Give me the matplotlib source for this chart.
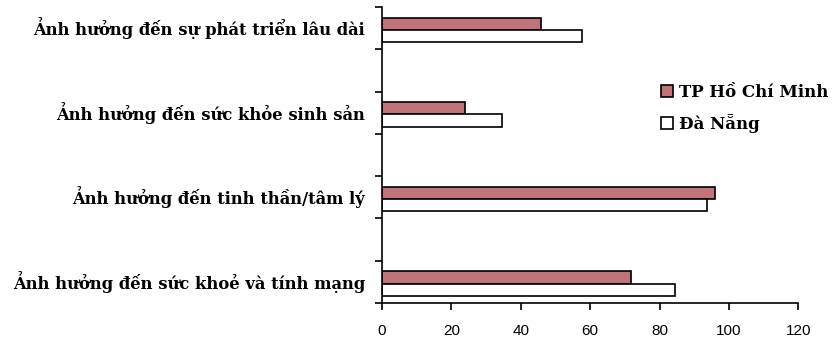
import matplotlib.pyplot as plt
import matplotlib.transforms as mtransforms
import numpy as np

categories = [
    "Ảnh hưởng đến sự phát triển lâu dài",
    "Ảnh hưởng đến sức khỏe sinh sản",
    "Ảnh hưởng đến tinh thần/tâm lý",
    "Ảnh hưởng đến sức khoẻ và tính mạng",
]
hcm = [45.7, 23.8, 96.0, 71.7]
danang = [57.7, 34.7, 93.6, 84.4]
series_names = ["TP Hồ Chí Minh", "Đà Nẵng"]
xticks = [0, 20, 40, 60, 80, 100, 120]

label_font = {"family": "DejaVu Serif", "weight": "bold", "size": 11.8}

fig = plt.figure(figsize=(8.32, 3.4), dpi=100)
ax = fig.add_axes([0.4591, 0.1088, 0.5004, 0.8706])

# categories sit on every other slot, empty slots between them
pos = np.arange(len(categories)) * 2
h = 0.29
ax.barh(pos - h / 2 + 0.04, hcm, height=h, color="#c0737a", edgecolor="black",
        linewidth=1.2, label=series_names[0])
ax.barh(pos + h / 2 + 0.04, danang, height=h, color="white", edgecolor="black",
        linewidth=1.2, label=series_names[1])

ax.set_ylim(pos[-1] + 0.5, -0.5)
ax.set_xlim(0, 120)

ax.set_yticks(np.arange(-0.5, pos[-1] + 1, 1))
ax.set_yticklabels([])
ax.tick_params(axis="y", length=5, width=1.2, direction="out")

# category names, 17 px left of the axis
shift = mtransforms.ScaledTranslation(-17 / 100, 0, fig.dpi_scale_trans)
for p, lab in zip(pos, categories):
    ax.text(0, p, lab, ha="right", va="center",
            transform=ax.get_yaxis_transform() + shift, **label_font)

ax.set_xticks(xticks)
ax.set_xticklabels([str(v) for v in xticks], family="Liberation Sans", fontsize=11)
ax.tick_params(axis="x", length=5, width=1.2, direction="out", pad=10)

for s in ["top", "right"]:
    ax.spines[s].set_visible(False)
for s in ["left", "bottom"]:
    ax.spines[s].set_linewidth(1.2)

ax.legend(loc="upper left", bbox_to_anchor=(654 / 832, 1 - 77 / 340),
          bbox_transform=fig.transFigure, frameon=False, borderaxespad=0,
          handlelength=0.75, handleheight=0.75, handletextpad=0.35,
          labelspacing=0.8, prop={**label_font, "size": 12})

fig.savefig("out.png", dpi=100)
